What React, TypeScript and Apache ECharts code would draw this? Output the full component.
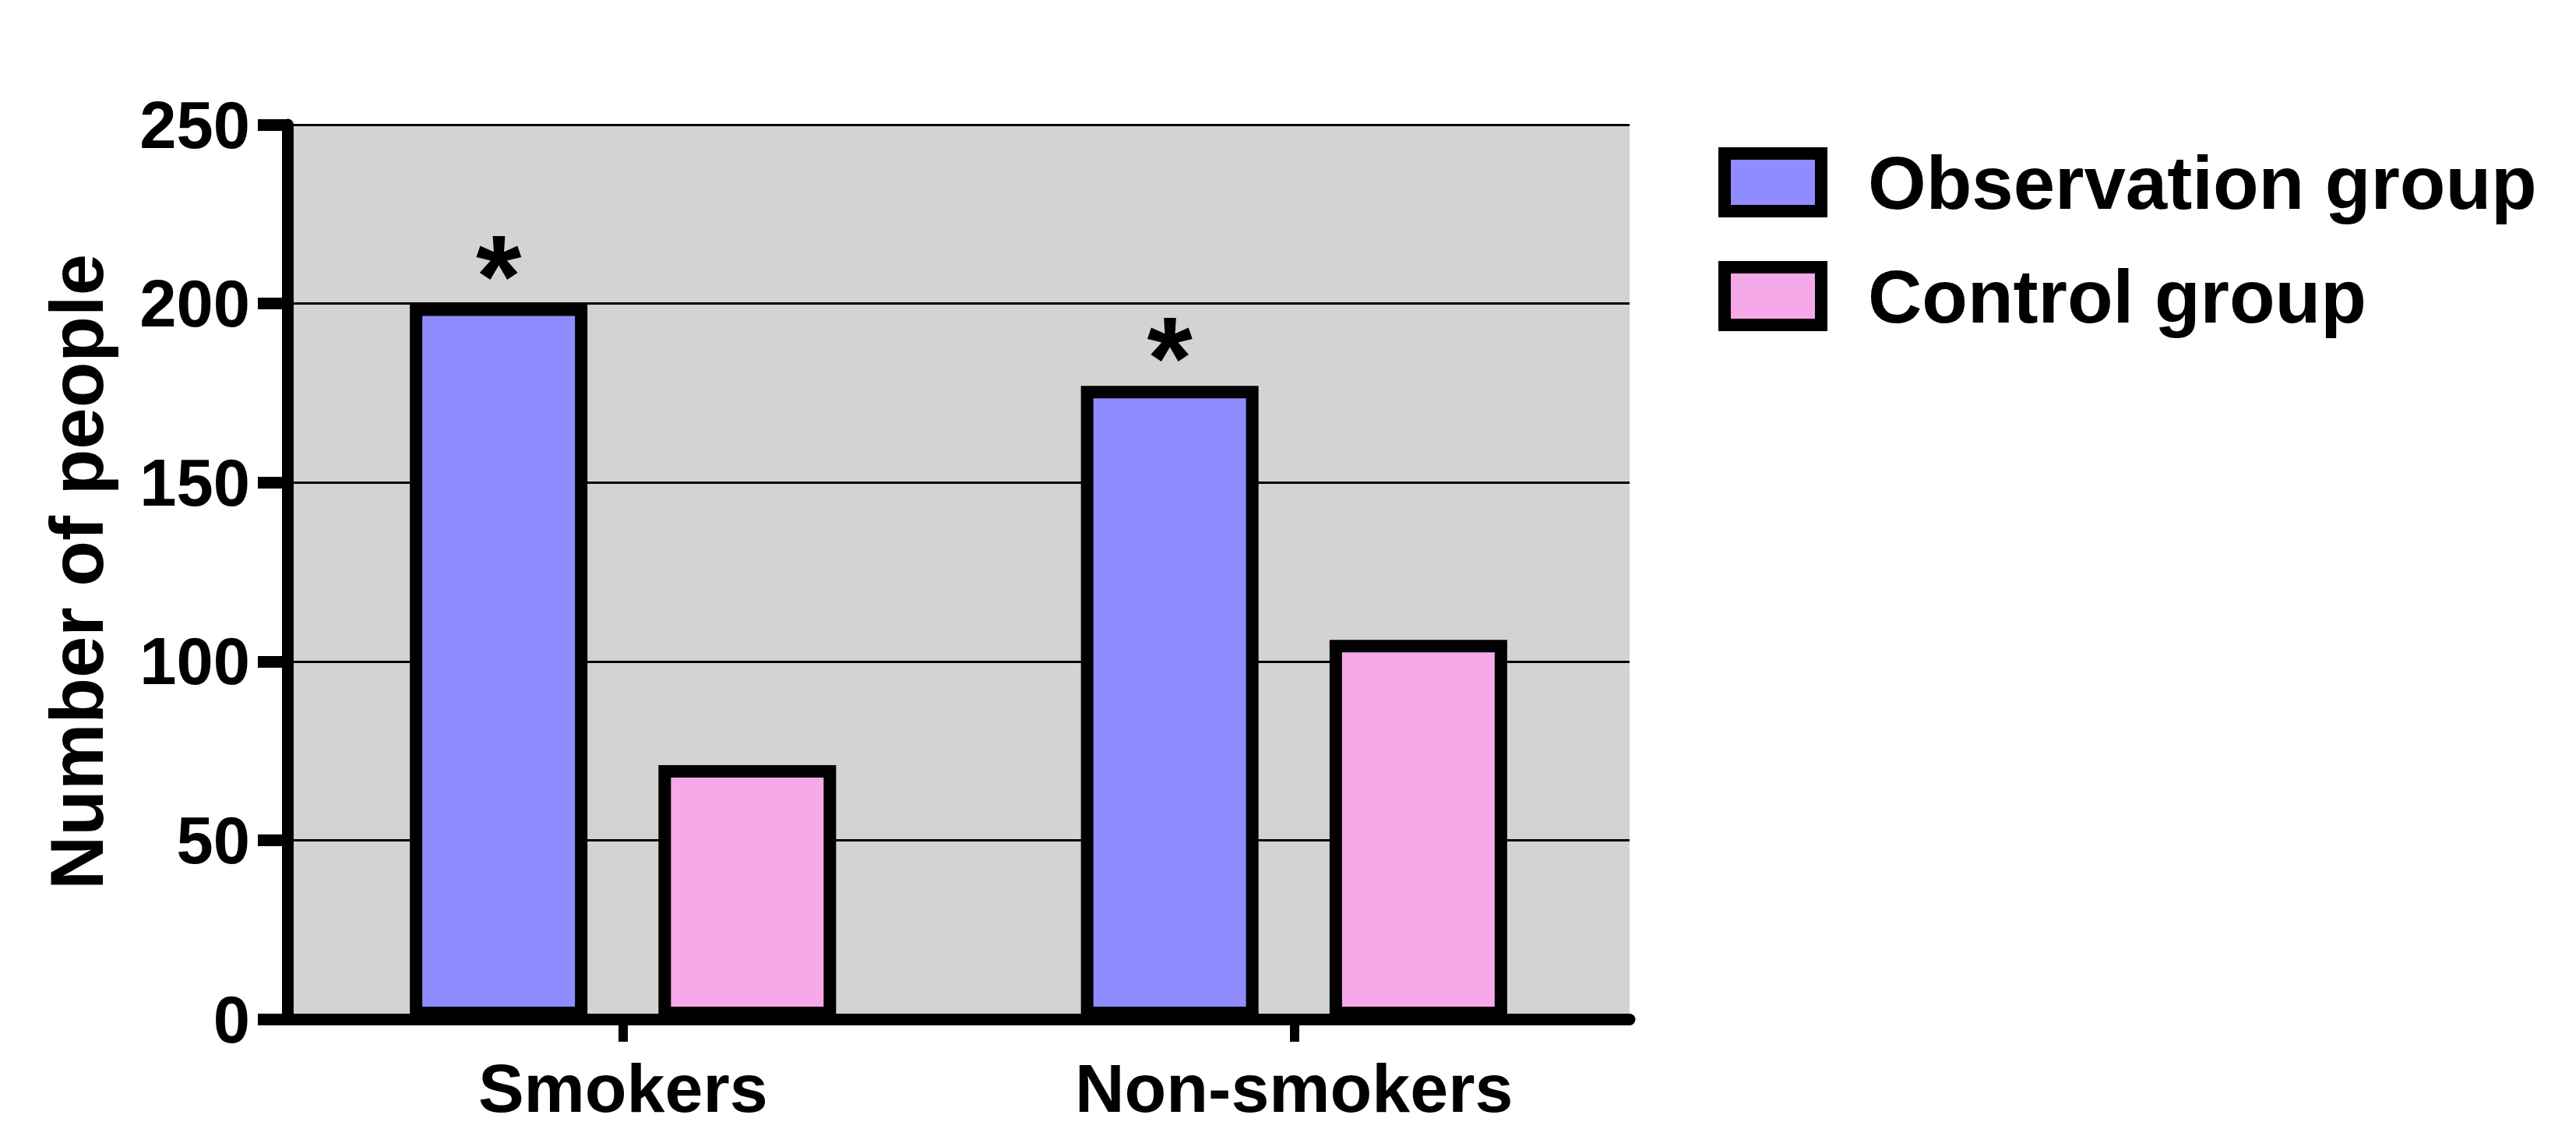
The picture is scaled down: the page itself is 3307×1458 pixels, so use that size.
import React, { useEffect, useRef } from "react";
import * as echarts from "echarts";

const categories = ["Smokers", "Non-smokers"];
const seriesNames = ["Observation group", "Control group"];
const observationValues = [200, 177];
const controlValues = [71, 106];
const significance = ["*", "*"];
const yMin = 0;
const yMax = 250;
const yInterval = 50;

const FONT = "'Liberation Sans', Arial, Helvetica, sans-serif";

export default function App() {
  const ref = useRef<HTMLDivElement>(null);
  useEffect(() => {
    if (!ref.current) return;
    const chart = echarts.init(ref.current, undefined, { renderer: "svg" });
    const option: any = {
      animation: false,
      backgroundColor: "#ffffff",
      textStyle: { fontFamily: FONT },
      grid: {
        left: 369,
        right: 3307 - 2092,
        top: 160,
        bottom: 1458 - 1308,
        show: true,
        backgroundColor: "#d3d3d3",
        borderWidth: 0,
        containLabel: false,
      },
      legend: {
        data: seriesNames,
        orient: "vertical",
        left: 2206,
        top: 186,
        padding: 0,
        itemGap: 50,
        icon: "rect",
        itemWidth: 124,
        itemHeight: 74,
        itemStyle: { borderWidth: 16, borderColor: "#000" },
        textStyle: {
          fontSize: 96,
          fontWeight: "bold",
          color: "#000",
          fontFamily: FONT,
          lineHeight: 74,
          padding: [0, 0, 0, 55],
        },
      },
      xAxis: {
        type: "category",
        data: categories,
        boundaryGap: true,
        axisLine: { show: true, lineStyle: { color: "#000", width: 15 } },
        axisTick: { show: true, alignWithLabel: true, length: 29, lineStyle: { color: "#000", width: 12 } },
        axisLabel: { fontSize: 88, fontWeight: "bold", color: "#000", fontFamily: FONT, margin: 44 },
        splitLine: { show: false },
      },
      yAxis: {
        type: "value",
        min: yMin,
        max: yMax,
        interval: yInterval,
        name: "Number of people",
        nameLocation: "middle",
        nameGap: 223,
        nameTextStyle: { fontSize: 96, fontWeight: "bold", color: "#000", fontFamily: FONT },
        axisLine: { show: true, lineStyle: { color: "#000", width: 15 } },
        axisTick: { show: true, length: 38, lineStyle: { color: "#000", width: 15 } },
        axisLabel: { fontSize: 85, fontWeight: "bold", color: "#000", fontFamily: FONT, margin: 48 },
        splitLine: { show: true, lineStyle: { color: "#000", width: 3 } },
      },
      series: [
        {
          name: seriesNames[0],
          type: "bar",
          data: observationValues,
          barWidth: 228,
          barGap: "40%",
          itemStyle: { color: "#8e8cfe", borderColor: "#000", borderWidth: 16 },
          label: {
            show: true,
            position: "top",
            distance: 15,
            formatter: (p: any) => significance[p.dataIndex],
            fontSize: 150,
            lineHeight: 40,
            fontWeight: "bold",
            color: "#000",
            fontFamily: FONT,
          },
        },
        {
          name: seriesNames[1],
          type: "bar",
          data: controlValues,
          barWidth: 228,
          barGap: "40%",
          itemStyle: { color: "#f6a9e8", borderColor: "#000", borderWidth: 16 },
        },
      ],
    };
    chart.setOption(option);
    return () => chart.dispose();
  }, []);
  return (
    <div
      ref={ref}
      style={{ position: "fixed", left: 0, top: 0, width: 3307, height: 1458 }}
    />
  );
}
